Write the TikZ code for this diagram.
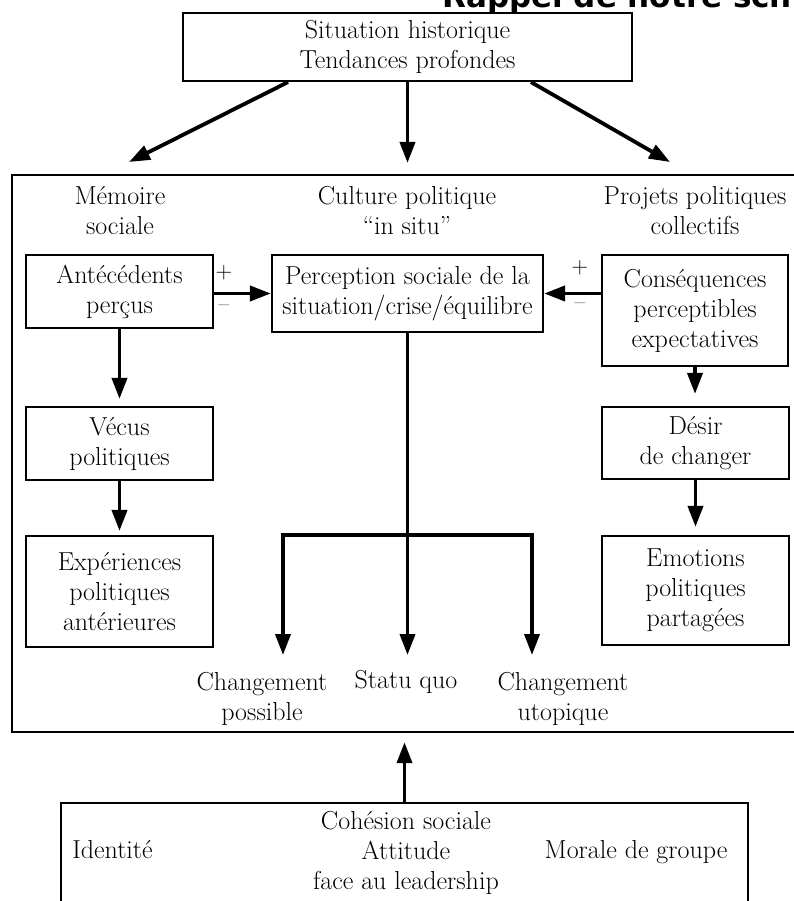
\documentclass[tikz,border=0pt]{standalone}
\usepackage{fontspec}
\newfontfamily\titlefont{DejaVu Sans}
\usetikzlibrary{arrows.meta,calc}
\newcommand\dtxt{\fontsize{26}{30}\selectfont}
\newcommand\dsign{\fontsize{23}{24}\selectfont}
\begin{document}
\begin{tikzpicture}[x=1pt,y=-1pt,
  box/.style={draw, line width=2.2pt, inner sep=0pt, align=center, font=\dtxt},
  frame/.style={draw, line width=2.4pt, inner sep=0pt},
  lbl/.style={inner sep=0pt, align=center, font=\dtxt},
  sign/.style={inner sep=0pt, font=\dsign},
  conn/.style={line width=3.8pt, line join=miter},
  arr/.style={conn, -{Triangle[length=21pt,width=15pt]}}]
\useasboundingbox (0,0) rectangle (793,901);
\fill[white] (0,0) rectangle (793,901);

% title (cut off by the page edge)
\node[anchor=base west, inner sep=0pt, font=\titlefont\fontsize{31}{31}\bfseries\selectfont] (title) at (442,8) {Rappel de notre sch};

% top box
\node[box, minimum width=449pt, minimum height=68pt] (top) at (407.5,47) {Situation historique\\Tendances profondes};

% main frame
\node[frame, minimum width=808pt, minimum height=557pt] (main) at (416,453.5) {};

% column headers
\node[lbl] (hmem) at (120,211) {Mémoire\\sociale};
\node[lbl] (hcult) at (407,211) {Culture politique\\“in situ”};
\node[lbl] (hproj) at (695,211) {Projets politiques\\collectifs};

% boxes
\node[box, minimum width=187pt, minimum height=73pt] (ante) at (119.5,291.5) {Antécédents\\perçus};
\node[box, minimum width=187pt, minimum height=73pt] (vecus) at (119.5,443.5) {Vécus\\politiques};
\node[box, minimum width=187pt, minimum height=111pt] (exper) at (119.5,591.5) {Expériences\\politiques\\antérieures};
\node[box, minimum width=271pt, minimum height=77pt] (perc) at (407.5,293.5) {Perception sociale de la\\situation/crise/équilibre};
\node[box, minimum width=186pt, minimum height=111pt] (cons) at (695,310.5) {Conséquences\\perceptibles\\expectatives};
\node[box, minimum width=187pt, minimum height=72pt] (desir) at (695.5,443) {Désir\\de changer};
\node[box, minimum width=187pt, minimum height=109pt] (emo) at (695.5,590.5) {Emotions\\politiques\\partagées};

% signs
\node[sign] (lp) at (224,273) {+};
\node[sign] (lm) at (224,308) {–};
\node[sign] (rp) at (580,268) {+};
\node[sign] (rm) at (580,306) {–};

% outcome labels
\node[lbl] (cp) at (262,698.5) {Changement\\possible};
\node[lbl, anchor=base] (sq) at (406,688) {Statu quo};
\node[lbl] (cu) at (563,698.5) {Changement\\utopique};

% bottom box
\node[frame, minimum width=687pt, minimum height=150pt] (bot) at (404.5,878) {};
\node[lbl] (coh) at (406,852.5) {Cohésion sociale\\Attitude\\face au leadership};
\node[lbl, anchor=base] (ident) at (112.5,858) {Identité};
\node[lbl, anchor=base] (morale) at (636,858) {Morale de groupe};

% coordinates
\coordinate (la) at (129,162);
\coordinate (ma) at (407.5,163);
\coordinate (ra) at (670,162);
\coordinate (bm) at (407.5,535);
\coordinate (b1) at (283,535);
\coordinate (b3) at (532,535);
\coordinate (e1) at (283,655);
\coordinate (e2) at (407.5,655);
\coordinate (e3) at (532,655);

% top arrows
\draw[arr] ([xshift=-119.5pt]top.south) -- (la);
\draw[arr] (top.south) -- (ma);
\draw[arr] ([xshift=123.5pt]top.south) -- (ra);

% horizontal arrows into perception
\draw[arr] (ante.east |- perc) -- (perc.west);
\draw[arr] (cons.west |- perc) -- (perc.east);

% vertical arrows in columns
\draw[arr, shorten >=7pt] (ante) -- (vecus);
\draw[arr, shorten >=4pt] (vecus) -- (exper);
\draw[arr, shorten >=12pt] (cons.south) -- (cons.south |- desir.north);
\draw[arr, shorten >=8pt] (desir.south) -- (desir.south |- emo.north);

% branching
\draw[arr] (perc.south) -- (bm) -- (e2);
\draw[arr] (bm) -- (b1) -- (e1);
\draw[arr] (bm) -- (b3) -- (e3);

% bottom arrow
\draw[arr, shorten >=9pt] (bot.north) -- (bot.north |- main.south);
\end{tikzpicture}
\end{document}
